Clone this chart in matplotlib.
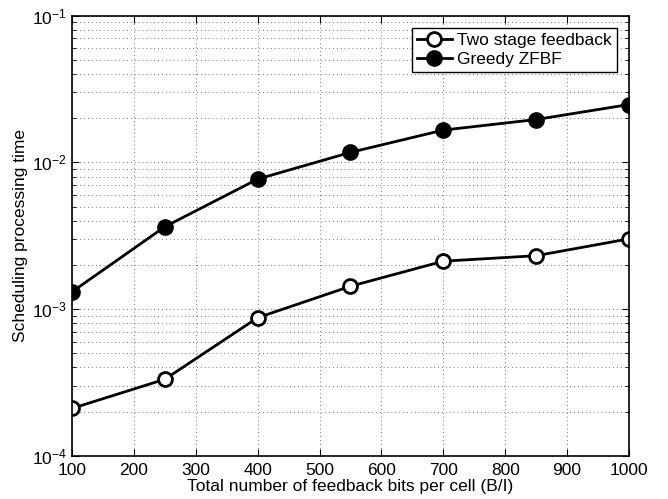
import matplotlib
matplotlib.use("Agg")
import matplotlib.pyplot as plt
from matplotlib.ticker import LogLocator, NullFormatter, MultipleLocator

plt.rcParams['font.family'] = ['Liberation Sans', 'DejaVu Sans']
plt.rcParams['mathtext.fontset'] = 'custom'
plt.rcParams['mathtext.rm'] = 'Liberation Sans'
plt.rcParams['mathtext.it'] = 'Liberation Sans:italic'

bits = [100, 250, 400, 550, 700, 850, 1000]
two_stage = [2.10e-4, 3.32e-4, 8.73e-4, 1.43e-3, 2.12e-3, 2.31e-3, 3.01e-3]
greedy = [1.31e-3, 3.64e-3, 7.69e-3, 1.17e-2, 1.66e-2, 1.96e-2, 2.48e-2]

fig = plt.figure(figsize=(6.68, 4.99), dpi=100)
ax = fig.add_axes([0.1078, 0.0868, 0.8338, 0.8817])

ax.plot(bits, two_stage, '-o', color='black', lw=2, ms=10, mew=2,
        mfc='white', label='Two stage feedback')
ax.plot(bits, greedy, '-o', color='black', lw=2, ms=10, mew=2,
        mfc='black', label='Greedy ZFBF')

ax.set_yscale('log')
ax.set_xlim(100, 1000)
ax.set_ylim(1e-4, 1e-1)
ax.xaxis.set_major_locator(MultipleLocator(100))
ax.yaxis.set_major_locator(LogLocator(base=10, numticks=10))
ax.yaxis.set_minor_locator(LogLocator(base=10, subs=range(2, 10), numticks=20))
ax.yaxis.set_minor_formatter(NullFormatter())

gridstyle = dict(linestyle=(0, (1, 3)), color='#777777', lw=0.7)
ax.grid(True, which='major', **gridstyle)
ax.grid(True, which='minor', axis='y', **gridstyle)
ax.set_axisbelow(True)

ax.tick_params(which='both', direction='in', top=True, right=True, labelsize=12.5)
ax.tick_params(axis='x', pad=5)
ax.tick_params(which='major', length=5)
ax.tick_params(which='minor', length=3)
for s in ax.spines.values():
    s.set_linewidth(1.2)

ax.set_xlabel('Total number of feedback bits per cell (B/I)', fontsize=12.5, labelpad=1)
ax.set_ylabel('Scheduling processing time', fontsize=12.5, labelpad=3)

leg = ax.legend(loc='upper right', fontsize=12.5, frameon=True, fancybox=False,
                edgecolor='black', framealpha=1, borderaxespad=0.7,
                handlelength=2.0, handletextpad=0.3, borderpad=0.3, labelspacing=0.2)
leg.get_frame().set_linewidth(1.0)

fig.savefig('out.png', dpi=100)
